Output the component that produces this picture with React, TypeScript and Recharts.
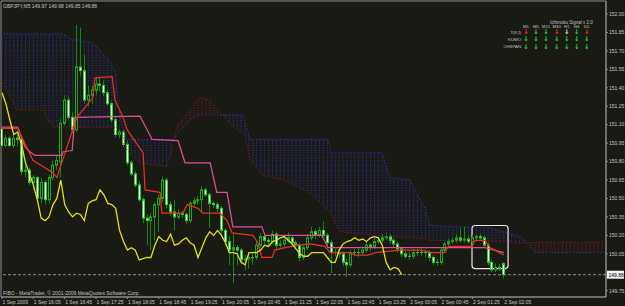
import React from 'react';
import { ComposedChart, XAxis, YAxis, Bar, Line, Area, ReferenceLine, ReferenceArea } from 'recharts';

// ---------- data ----------
const symbolTitle = 'GBPJPY,M5';
const lastOHLC = ['149.97', '149.98', '149.85', '149.88'];
const copyright = 'FIBO - MetaTrader, \u00a9 2001-2009 MetaQuotes Software Corp.';

const timeTickIdx = [0, 8, 16, 24, 32, 40, 48, 56, 64, 72, 80, 88, 96, 104, 112, 120, 128];
const timeLabels = [
  '1 Sep 2009', '1 Sep 16:05', '1 Sep 16:45', '1 Sep 17:25', '1 Sep 18:05', '1 Sep 18:45',
  '1 Sep 19:25', '1 Sep 20:05', '1 Sep 20:45', '1 Sep 21:25', '1 Sep 22:05', '1 Sep 22:45',
  '1 Sep 23:25', '2 Sep 00:05', '2 Sep 00:45', '2 Sep 01:25', '2 Sep 02:05',
];
const priceTicks = [152.0, 151.85, 151.7, 151.55, 151.4, 151.25, 151.1, 150.95, 150.8, 150.65, 150.5, 150.35, 150.2, 150.05, 149.75];
const bidPrice = 149.88;
const highlightBars = [119.9, 129.1];
const highlightPrices = [149.93, 150.28];

const opens = [
  151.07, 150.93, 150.99, 150.93, 150.99, 150.98, 150.72, 150.73, 150.63, 150.67,
  150.50, 150.63, 150.49, 150.67, 150.77, 150.80, 151.11, 151.30, 151.16, 151.06,
  151.57, 151.54, 151.30, 151.34, 151.38, 151.43, 151.42, 151.36, 151.27, 151.14,
  151.02, 151.04, 150.94, 150.79, 150.70, 150.61, 150.49, 150.34, 150.32, 150.35,
  150.45, 150.50, 150.65, 150.45, 150.39, 150.35, 150.38, 150.37, 150.32, 150.46,
  150.48, 150.49, 150.57, 150.53, 150.46, 150.45, 150.42, 150.24, 150.15, 150.08,
  150.10, 150.08, 150.00, 150.01, 150.02, 150.02, 150.12, 150.19, 150.16, 150.15,
  150.21, 150.12, 150.13, 150.16, 150.18, 150.14, 150.12, 150.02, 150.10, 150.18,
  150.23, 150.20, 150.24, 150.20, 150.14, 150.06, 150.06, 150.05, 149.98, 149.96,
  150.06, 150.06, 150.06, 150.08, 150.12, 150.11, 150.15, 150.16, 150.18, 150.19,
  150.16, 150.13, 150.09, 150.05, 150.03, 150.03, 150.06, 150.06, 150.06, 150.06,
  150.02, 149.98, 149.98, 150.08, 150.13, 150.15, 150.16, 150.18, 150.16, 150.17,
  150.15, 150.18, 150.19, 150.18, 150.12, 149.98, 149.92, 149.94, 149.97,
];
const highs = [
  151.10, 151.02, 151.01, 151.02, 151.03, 151.02, 150.77, 150.75, 150.69, 150.68,
  150.67, 150.65, 150.69, 150.81, 150.85, 151.15, 151.34, 151.33, 151.20, 151.91,
  151.89, 151.67, 151.42, 151.42, 151.48, 151.49, 151.46, 151.38, 151.29, 151.16,
  151.06, 151.06, 150.97, 150.81, 150.72, 150.64, 150.51, 150.37, 150.38, 150.47,
  150.53, 150.68, 150.67, 150.48, 150.49, 150.41, 150.40, 150.39, 150.48, 150.51,
  150.52, 150.60, 150.59, 150.55, 150.48, 150.47, 150.44, 150.26, 150.19, 150.22,
  150.12, 150.10, 150.04, 150.05, 150.05, 150.15, 150.22, 150.21, 150.18, 150.24,
  150.23, 150.16, 150.19, 150.22, 150.20, 150.16, 150.14, 150.12, 150.21, 150.27,
  150.25, 150.27, 150.31, 150.22, 150.16, 150.09, 150.08, 150.07, 150.01, 150.08,
  150.09, 150.10, 150.11, 150.15, 150.14, 150.18, 150.19, 150.21, 150.22, 150.21,
  150.18, 150.15, 150.11, 150.08, 150.07, 150.09, 150.09, 150.10, 150.09, 150.08,
  150.04, 150.01, 150.10, 150.15, 150.17, 150.18, 150.21, 150.26, 150.27, 150.19,
  150.20, 150.21, 150.21, 150.20, 150.14, 150.00, 149.97, 149.97, 149.98,
];
const lows = [
  150.92, 150.92, 150.92, 150.91, 150.92, 150.69, 150.67, 150.61, 150.57, 150.49,
  150.46, 150.45, 150.46, 150.65, 150.73, 150.67, 151.09, 151.14, 151.03, 151.04,
  151.50, 151.27, 151.25, 151.27, 151.34, 151.37, 151.33, 151.25, 151.12, 151.00,
  150.99, 150.92, 150.77, 150.68, 150.59, 150.47, 150.30, 150.12, 150.08, 150.16,
  150.23, 150.47, 150.42, 150.36, 150.24, 150.33, 150.34, 150.29, 150.30, 150.44,
  150.45, 150.38, 150.51, 150.26, 150.42, 150.39, 150.21, 150.12, 149.96, 149.81,
  149.96, 149.97, 149.92, 149.93, 149.96, 150.00, 150.10, 150.13, 150.12, 150.13,
  150.09, 150.10, 150.11, 150.14, 150.11, 150.09, 149.99, 150.00, 150.08, 150.16,
  150.17, 150.18, 150.18, 150.11, 149.89, 150.03, 150.02, 149.95, 149.86, 149.94,
  150.03, 150.02, 150.04, 150.06, 150.07, 150.09, 150.13, 150.14, 150.16, 150.13,
  150.10, 150.06, 150.02, 150.01, 150.00, 150.01, 150.03, 150.03, 150.02, 149.99,
  149.96, 149.95, 149.96, 150.06, 150.11, 150.13, 150.14, 150.14, 150.14, 150.13,
  150.13, 150.16, 150.16, 150.10, 149.96, 149.90, 149.90, 149.91, 149.85,
];
const closes = [
  150.93, 150.99, 150.93, 150.99, 150.98, 150.72, 150.73, 150.63, 150.67, 150.50,
  150.63, 150.49, 150.67, 150.77, 150.81, 151.11, 151.30, 151.16, 151.06, 151.57,
  151.54, 151.30, 151.34, 151.38, 151.43, 151.42, 151.36, 151.27, 151.14, 151.02,
  151.04, 150.94, 150.79, 150.70, 150.61, 150.49, 150.34, 150.32, 150.35, 150.45,
  150.50, 150.65, 150.45, 150.39, 150.35, 150.38, 150.37, 150.32, 150.46, 150.48,
  150.49, 150.57, 150.53, 150.46, 150.45, 150.42, 150.24, 150.15, 150.08, 150.10,
  150.08, 150.00, 150.01, 150.02, 150.02, 150.12, 150.19, 150.16, 150.15, 150.21,
  150.12, 150.13, 150.16, 150.18, 150.14, 150.12, 150.02, 150.10, 150.18, 150.23,
  150.20, 150.24, 150.20, 150.14, 150.06, 150.06, 150.05, 149.98, 149.96, 150.06,
  150.06, 150.06, 150.08, 150.12, 150.11, 150.15, 150.16, 150.18, 150.19, 150.16,
  150.13, 150.09, 150.05, 150.03, 150.03, 150.06, 150.06, 150.06, 150.06, 150.02,
  149.98, 149.98, 150.08, 150.13, 150.15, 150.16, 150.18, 150.16, 150.17, 150.15,
  150.18, 150.19, 150.18, 150.12, 149.98, 149.92, 149.94, 149.93, 149.88,
];
const chikouShift = 26;

const tenkanPts = [
  [-0.25, 151.07], [4, 151.07], [4.6, 151.03], [7.9, 150.81], [13, 150.71], [14, 150.67],
  [19.1, 151.16], [23.2, 151.32], [23.7, 151.48], [28.1, 151.49], [28.8, 151.3], [30.9, 151.16],
  [31.9, 151.06], [36, 150.87], [36.5, 150.57], [40.3, 150.55], [40.8, 150.38], [46.2, 150.38],
  [47.2, 150.45], [50, 150.42], [51.3, 150.38], [55.6, 150.38], [57.4, 150.32], [58.7, 150.22],
  [64, 150.2], [65.3, 150.14], [66.3, 150.02], [68.9, 150.02], [69.6, 150.08], [72.2, 150.1],
  [75.5, 150.12], [78.6, 150.13], [82.4, 150.11], [83.7, 150.06], [86.2, 150.06], [88.8, 150.06],
  [90.1, 150.04], [93.4, 150.04], [95.2, 150.06], [101.5, 150.08], [106.6, 150.08], [109.7, 150.06],
  [113, 150.06], [113.8, 150.11], [119.9, 150.11], [120.7, 150.16], [123.2, 150.16], [124.5, 150.1],
  [128, 150.04],
];
const kijunPts = [
  [-0.25, 151.08], [4, 151.08], [4.6, 151.03], [5.9, 150.92], [7.1, 150.88], [8.4, 150.85],
  [15.3, 150.85], [15.6, 150.88], [17.9, 150.89], [18.6, 151.16], [35.2, 151.17], [38.3, 150.98],
  [44.9, 150.97], [46.7, 150.79], [53.1, 150.79], [54.8, 150.55], [57.4, 150.55], [58.9, 150.27],
  [66.3, 150.27], [67.1, 150.2], [81.6, 150.2], [83.2, 150.1], [123.2, 150.1], [128, 150.06],
];
// [bar, senkou span A, senkou span B]
const kumoPts = [
  [-0.25, 151.84, 151.46], [3.8, 151.84, 151.22], [10.5, 151.84, 151.22], [11.7, 151.84, 151.14],
  [13, 151.84, 151.08], [15.6, 151.84, 151.08], [17.3, 151.8, 151.08], [22.4, 151.77, 151.08],
  [24.2, 151.73, 151.08], [26.8, 151.64, 151.08], [28.8, 151.54, 151.08], [29.6, 151.3, 151.07],
  [30.6, 151.1, 151.04], [31.9, 150.98, 150.89], [35.2, 150.98, 150.79], [42.1, 150.98, 150.76],
  [43.9, 150.98, 150.98], [44.6, 151.02, 151.08], [48, 151.14, 151.22], [50.5, 151.18, 151.32],
  [53.1, 151.18, 151.3], [55.6, 151.18, 151.19], [56.4, 151.18, 151.18], [58.2, 151.18, 151.11],
  [61.2, 151.18, 151.03], [62, 151.12, 151.02], [63.3, 150.98, 150.81], [66.6, 150.98, 150.69],
  [71.7, 150.98, 150.65], [76, 150.98, 150.59], [78.6, 150.98, 150.54], [83.2, 150.98, 150.41],
  [83.9, 150.87, 150.37], [86.2, 150.87, 150.23], [95.2, 150.87, 150.2], [96.9, 150.87, 150.19],
  [99, 150.67, 150.19], [104.1, 150.65, 150.18], [104.8, 150.6, 150.18], [107.9, 150.42, 150.17],
  [109.2, 150.28, 150.16], [124.5, 150.26, 150.15], [132.1, 150.19, 150.14], [133.9, 150.15, 150.14],
  [134.2, 150.14, 150.14], [136, 150.06, 150.14], [154.1, 150.06, 150.14],
];

const panelTitle = 'Ichimoku Signal v 2.0';
const panelCols = ['M1', 'M5', 'M15', 'M30', 'H1', 'H4', 'D1'];
const panelRows = ['T(KJ)', 'KUMO', 'CHSPAN'];
const panelSignals = [
  ['r', 'g', 'g', 'r', 'w', 'g', 'r'],
  ['g', 'g', 'g', 'g', 'g', 'g', 'g'],
  ['g', 'g', 'g', 'g', 'g', 'g', 'g'],
];

// ---------- styles ----------
const BG = '#1a1a14';
const FRAME = '#8c8c8c';
const TXT = '#c4c4c4';
const FONT = "'Liberation Sans', Arial, sans-serif";
const WICK = '#188418';
const BULL = '#1fa81f';
const BEAR_EDGE = '#36c836';
const BEAR_FILL = '#e2fbe2';
const SIG = { r: '#ff2a2a', g: '#22e022', w: '#e6e6e6' } as Record<string, string>;

const X_DOMAIN: [number, number] = [-0.25, 154.08];
const Y_DOMAIN: [number, number] = [149.6988, 152.1057];

// ---------- derived tables ----------
const candleRows = opens.map((o, i) => ({ x: i, o, h: highs[i], l: lows[i], c: closes[i], range: [lows[i], highs[i]] }));
const chikouRows = closes.slice(chikouShift).map((v, i) => ({ x: i, v }));
const tenkanRows = tenkanPts.map(([x, v]) => ({ x, v }));
const kijunRows = kijunPts.map(([x, v]) => ({ x, v }));
const spanRows = kumoPts.map(([x, a, b]) => ({ x, a, b }));

function kumoRuns(up: boolean) {
  const runs: any[][] = [];
  let cur: any[] = [];
  kumoPts.forEach(([x, a, b]) => {
    const ok = up ? a >= b : b >= a;
    if (ok) cur.push({ x, r: [Math.min(a, b), Math.max(a, b)] });
    else if (cur.length) {
      runs.push(cur);
      cur = [];
    }
  });
  if (cur.length) runs.push(cur);
  return runs.filter((r) => r.length > 1);
}
const blueRuns = kumoRuns(true);
const redRuns = kumoRuns(false);

// ---------- shapes ----------
const Candle = (props: any) => {
  const { x, y, width, height, payload } = props;
  if (!payload || x == null || y == null) return null;
  const { o, h, l, c } = payload;
  const top = Math.min(y, y + height);
  const span = Math.abs(height);
  const k = h - l > 0 ? span / (h - l) : 0;
  const cx = Math.floor(x + (width || 0) / 2) + 0.5;
  const yO = top + (h - o) * k;
  const yC = top + (h - c) * k;
  const bTop = Math.min(yO, yC);
  const bBot = Math.max(yO, yC);
  const bull = c > o;
  const doji = bBot - bTop < 1;
  return (
    <g>
      <line x1={cx} x2={cx} y1={top} y2={top + span} stroke={WICK} strokeWidth={1} />
      {doji ? (
        <line x1={cx - 1.5} x2={cx + 1.5} y1={(bTop + bBot) / 2} y2={(bTop + bBot) / 2} stroke={bull ? BULL : BEAR_EDGE} strokeWidth={1} />
      ) : (
        <rect x={cx - 1} y={bTop} width={2} height={bBot - bTop} fill={bull ? BG : BEAR_FILL} stroke={bull ? BULL : BEAR_EDGE} strokeWidth={1} />
      )}
    </g>
  );
};

const TimeTick = (props: any) => {
  const { x, y, payload } = props;
  const idx = timeTickIdx.indexOf(payload.value);
  return (
    <text x={x + 0.5} y={y + 3} fontSize={5} fill={TXT} fontFamily={FONT} textAnchor="start">
      {idx >= 0 ? timeLabels[idx] : ''}
    </text>
  );
};

const PriceTick = (props: any) => {
  const { x, y, payload } = props;
  return (
    <text x={x - 1} y={y + 1.8} fontSize={5} fill={TXT} fontFamily={FONT} textAnchor="start">
      {Number(payload.value).toFixed(2)}
    </text>
  );
};

const PriceBox = (props: any) => {
  const vb = props.viewBox || {};
  const bx = (vb.x || 0) + (vb.width || 0) + 1;
  const by = vb.y || 0;
  return (
    <g>
      <rect x={bx} y={by - 4} width={17} height={8} fill="#f2f2f2" />
      <text x={bx + 1.5} y={by + 1.8} fontSize={5} fill="#000" fontFamily={FONT}>
        {bidPrice.toFixed(2)}
      </text>
    </g>
  );
};

const HighlightBox = (props: any) => {
  const { x, y, width, height } = props;
  if (x == null) return null;
  return <rect x={x} y={y} width={width} height={height} rx={3} ry={3} fill="none" stroke="#e6e6e6" strokeWidth={1.2} />;
};

export default function App() {
  const colX = [526, 536, 546, 556.7, 566.7, 576.7, 586.7];
  const rowY = [32, 39, 46.3];
  return (
    <div style={{ position: 'fixed', left: 0, top: 0, width: 625, height: 306, background: BG, overflow: 'hidden' }}>
      <svg width={0} height={0} style={{ position: 'absolute' }}>
        <defs>
          <pattern id="kumoBlue" patternUnits="userSpaceOnUse" x={1.5} y={0} width={3.92} height={2.5}>
            <rect x={0} y={0} width={1} height={1} fill="#3030c4" />
          </pattern>
          <pattern id="kumoRed" patternUnits="userSpaceOnUse" x={1.5} y={0} width={3.92} height={2.5}>
            <rect x={0} y={0} width={1} height={1} fill="#931616" />
          </pattern>
        </defs>
      </svg>
      <ComposedChart width={625} height={306} data={candleRows} margin={{ top: 1, right: 0, bottom: 0, left: 1 }}>
        <XAxis
          dataKey="x"
          type="number"
          domain={X_DOMAIN}
          allowDataOverflow
          ticks={timeTickIdx}
          interval={0}
          height={9}
          tickSize={2}
          axisLine={{ stroke: FRAME }}
          tickLine={{ stroke: FRAME }}
          tick={(p: any) => <TimeTick {...p} />}
        />
        <YAxis
          type="number"
          orientation="right"
          domain={Y_DOMAIN}
          allowDataOverflow
          ticks={priceTicks}
          interval={0}
          width={19}
          tickSize={2}
          axisLine={{ stroke: FRAME }}
          tickLine={{ stroke: FRAME }}
          tick={(p: any) => <PriceTick {...p} />}
        />
        <ReferenceArea x1={X_DOMAIN[0]} x2={X_DOMAIN[1]} y1={Y_DOMAIN[0]} y2={Y_DOMAIN[1]} fill="none" fillOpacity={0} stroke={FRAME} strokeWidth={1} />
        {blueRuns.map((run, k) => (
          <Area key={'b' + k} data={run} dataKey="r" type="linear" stroke="none" fill="url(#kumoBlue)" fillOpacity={1} dot={false} activeDot={false} isAnimationActive={false} />
        ))}
        {redRuns.map((run, k) => (
          <Area key={'r' + k} data={run} dataKey="r" type="linear" stroke="none" fill="url(#kumoRed)" fillOpacity={1} dot={false} activeDot={false} isAnimationActive={false} />
        ))}
        <Line data={spanRows} dataKey="a" type="linear" stroke="#3a3ad8" strokeWidth={1} strokeDasharray="1 2" dot={false} activeDot={false} isAnimationActive={false} />
        <Line data={spanRows} dataKey="b" type="linear" stroke="#a01a1a" strokeWidth={1} strokeDasharray="1 2" dot={false} activeDot={false} isAnimationActive={false} />
        <Bar dataKey="range" barSize={3} shape={(p: any) => <Candle {...p} />} isAnimationActive={false} />
        <Line data={kijunRows} dataKey="v" type="linear" stroke="#dc5096" strokeWidth={1.25} dot={false} activeDot={false} isAnimationActive={false} />
        <Line data={tenkanRows} dataKey="v" type="linear" stroke="#e6321e" strokeWidth={1.25} dot={false} activeDot={false} isAnimationActive={false} />
        <Line data={chikouRows} dataKey="v" type="linear" stroke="#e2e21a" strokeWidth={1.3} dot={false} activeDot={false} isAnimationActive={false} />
        <ReferenceLine y={bidPrice} stroke="#8c8c8c" strokeDasharray="3 2" ifOverflow="visible" label={<PriceBox />} />
        <ReferenceArea
          x1={highlightBars[0]}
          x2={highlightBars[1]}
          y1={highlightPrices[0]}
          y2={highlightPrices[1]}
          ifOverflow="visible"
          shape={(p: any) => <HighlightBox {...p} />}
        />
      </ComposedChart>
      <svg width={625} height={306} style={{ position: 'absolute', left: 0, top: 0, pointerEvents: 'none' }}>
        <text x={3} y={8} fontSize={5} fill={TXT} fontFamily={FONT}>
          {[symbolTitle, ...lastOHLC].join('  ')}
        </text>
        <text x={3} y={295} fontSize={5} fill={TXT} fontFamily={FONT}>
          {copyright}
        </text>
        <text x={550} y={23.5} fontSize={4.5} fill={TXT} fontFamily={FONT}>
          {panelTitle}
        </text>
        {panelCols.map((c, j) => (
          <text key={c} x={colX[j]} y={28} fontSize={4.3} fill={TXT} fontFamily={FONT} textAnchor="middle">
            {c}
          </text>
        ))}
        {panelRows.map((r, i) => (
          <g key={r}>
            <text x={521} y={rowY[i] + 1.6} fontSize={4.3} fill={TXT} fontFamily={FONT} textAnchor="end">
              {r}
            </text>
            {panelSignals[i].map((s, j) => (
              <text key={j} x={colX[j]} y={rowY[i] + 2.4} fontSize={6.5} fontWeight="bold" fill={SIG[s]} fontFamily="'DejaVu Sans', sans-serif" textAnchor="middle">
                {'\u2193'}
              </text>
            ))}
          </g>
        ))}
      </svg>
    </div>
  );
}
